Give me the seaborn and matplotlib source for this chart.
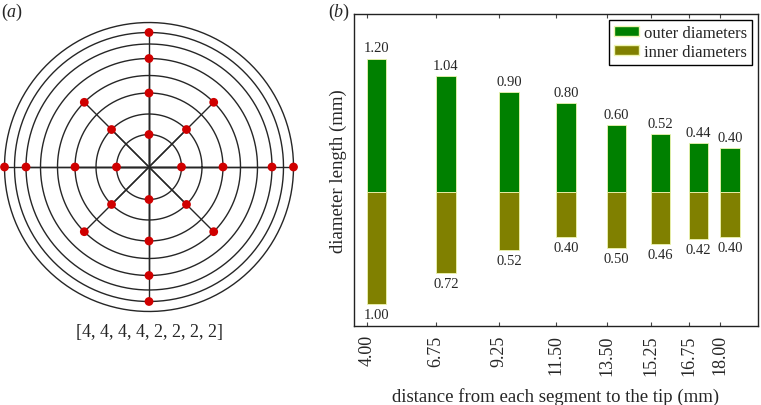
import numpy as np
import pandas as pd
import matplotlib
matplotlib.use('Agg')
import matplotlib.pyplot as plt
import seaborn as sns
from matplotlib.patches import Patch

# panel (a): concentric rings and the nodes placed on them
ring_radii = [32.5, 53, 74, 91.5, 108.5, 123, 134.5, 144.5]
nodes_per_ring = [4, 4, 4, 4, 2, 2, 2, 2]
ring_offset_deg = [0, 45, 0, 45, 90, 0, 90, 0]
ring_label = '[4, 4, 4, 4, 2, 2, 2, 2]'

# panel (b): diameters per segment
distance = [4.00, 6.75, 9.25, 11.50, 13.50, 15.25, 16.75, 18.00]
outer_diam = [1.20, 1.04, 0.90, 0.80, 0.60, 0.52, 0.44, 0.40]
inner_diam = [1.00, 0.72, 0.52, 0.40, 0.50, 0.46, 0.42, 0.40]

sns.set_style('white')
plt.rcParams['font.family'] = ['Liberation Serif', 'DejaVu Serif']
plt.rcParams['mathtext.fontset'] = 'custom'
plt.rcParams['mathtext.it'] = 'Liberation Serif:italic'
plt.rcParams['mathtext.rm'] = 'Liberation Serif'

fig = plt.figure(figsize=(7.61, 4.06), dpi=100)

# ---- (a)
ax1 = fig.add_axes([0.0, 0.2217, 0.3916, 0.729])
theta = np.linspace(0, 2 * np.pi, 400)
for r in ring_radii:
    ax1.plot(r * np.cos(theta), r * np.sin(theta), color='#262626', lw=1.0)
xs, ys = [], []
for r, n, off in zip(ring_radii, nodes_per_ring, ring_offset_deg):
    ang = np.deg2rad(off + np.arange(n) * 360 / n)
    xs.extend(r * np.cos(ang))
    ys.extend(r * np.sin(ang))
for x, y in zip(xs, ys):
    ax1.plot([0, x], [0, y], color='#262626', lw=1.0)
sns.scatterplot(x=xs, y=ys, ax=ax1, color='#d00000', s=40, edgecolor='none', zorder=3)
ax1.set_xlim(-149, 149)
ax1.set_ylim(-148, 148)
ax1.axis('off')

# ---- (b)
df = pd.DataFrame({'distance': distance, 'outer': outer_diam,
                   'inner': [-v for v in inner_diam]})
ax2 = fig.add_axes([0.4652, 0.1946, 0.5309, 0.7685])
edge = '#eef5b0'
sns.barplot(data=df, x='distance', y='outer', native_scale=True, orient='v',
            color='#008000', saturation=1, errorbar=None, ax=ax2,
            edgecolor=edge, linewidth=0.6)
sns.barplot(data=df, x='distance', y='inner', native_scale=True, orient='v',
            color='#808000', saturation=1, errorbar=None, ax=ax2,
            edgecolor=edge, linewidth=0.6)
bar_w = 0.78
for p in ax2.patches:
    c = p.get_x() + p.get_width() / 2
    p.set_x(c)
    p.set_width(bar_w)

ax2.bar_label(ax2.containers[0], labels=[f'{v:.2f}' for v in outer_diam], padding=3, fontsize=10.5)
ax2.bar_label(ax2.containers[1], labels=[f'{v:.2f}' for v in inner_diam], padding=3, fontsize=10.5)

ax2.set_xlim(3.5, 19.5)
ax2.set_ylim(-1.2, 1.6)
ax2.set_xticks(distance)
ax2.set_xticklabels([f'{d:.2f}' for d in distance], rotation=90, fontsize=13)
ax2.set_yticks([])
ax2.tick_params(axis='x', direction='in', top=True, bottom=True, length=3, width=0.8,
                pad=6, color='#444444')
ax2.set_xlabel('distance from each segment to the tip (mm)', fontsize=13.5, labelpad=9)
ax2.set_ylabel('diameter length (mm)', fontsize=13.5, labelpad=5)
for s in ax2.spines.values():
    s.set_color('#222222')
    s.set_linewidth(1.0)

handles = [Patch(facecolor='#008000', edgecolor=edge, label='outer diameters'),
           Patch(facecolor='#808000', edgecolor=edge, label='inner diameters')]
leg = ax2.legend(handles=handles, loc='upper right', fontsize=12, frameon=True,
                 fancybox=False, edgecolor='black', framealpha=1, borderaxespad=0.35,
                 handlelength=1.5, handleheight=0.5, handletextpad=0.3,
                 borderpad=0.3, labelspacing=0.2)
leg.get_frame().set_linewidth(1.0)

fig.text(149 / 761, 1 - 333 / 406, ring_label, ha='center', va='center', fontsize=13)
fig.text(1 / 761, 1 - 12 / 406, r'($a$)', ha='left', va='center', fontsize=13)
fig.text(328 / 761, 1 - 12 / 406, r'($b$)', ha='left', va='center', fontsize=13)

fig.savefig('out.png', dpi=100)
